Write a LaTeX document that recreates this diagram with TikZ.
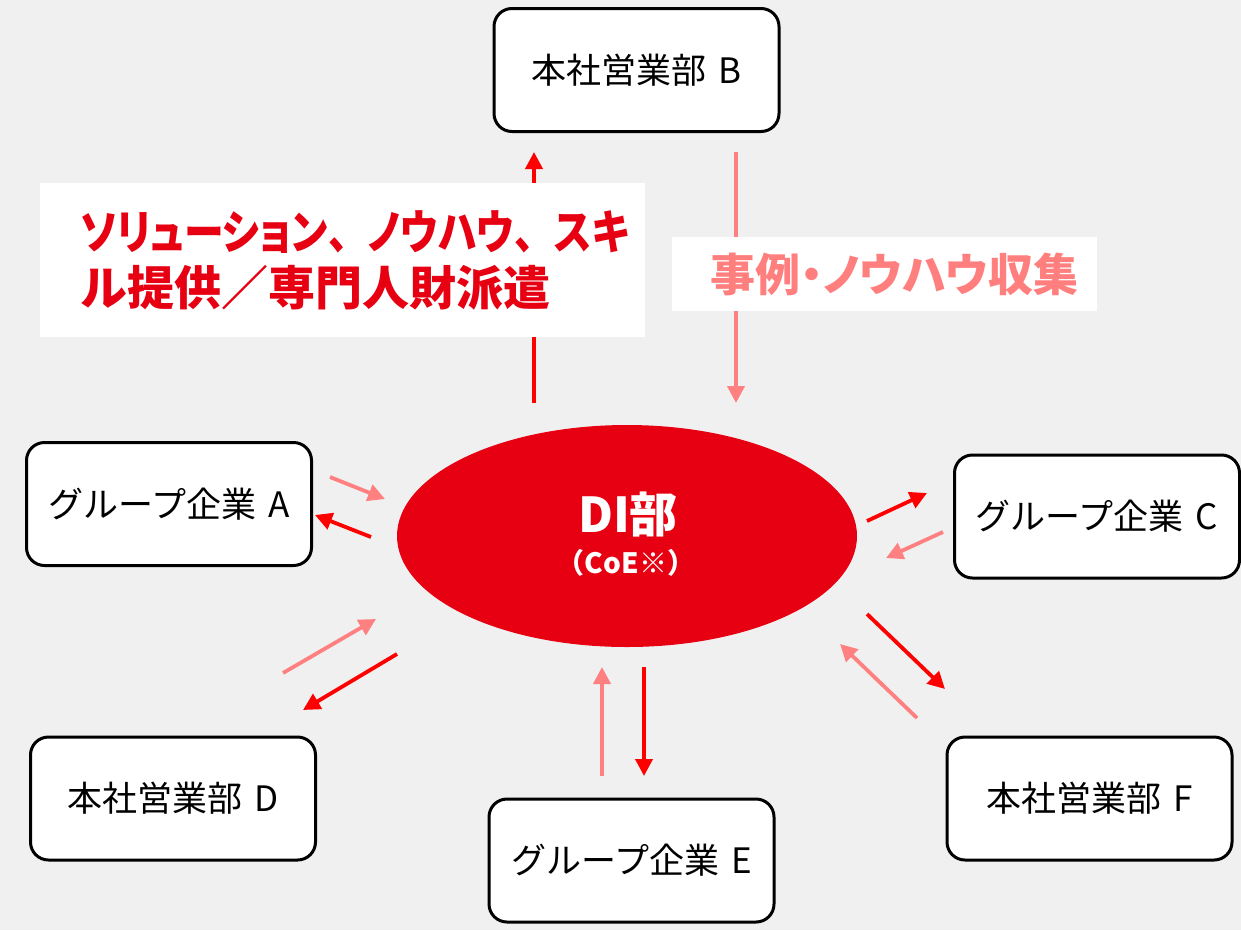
\documentclass[tikz,border=0pt]{standalone}
\usepackage{fontspec}
\usepackage{graphicx}
\setmainfont{Noto Sans CJK JP}
\newfontfamily\jpp{Noto Sans CJK JP}[RawFeature=+palt]
\usetikzlibrary{arrows.meta,shapes.geometric}
\definecolor{bg}{HTML}{F0F0F0}
\definecolor{direct}{HTML}{E60012}
\definecolor{arr}{HTML}{FF0000}
\definecolor{pinkarr}{HTML}{FF8080}
\definecolor{pinktxt}{HTML}{FF7F7F}
\tikzset{
  unit/.style={draw=black, line width=3pt, rounded corners=18pt, fill=white,
    minimum width=285pt, minimum height=123pt, inner sep=0pt,
    font=\fontsize{35}{40}\selectfont},
  redarr/.style={draw=arr, line width=3.8pt, -{Triangle[length=17pt,width=17pt]}},
  pinkar/.style={draw=pinkarr, line width=3.8pt, -{Triangle[length=17pt,width=17pt]}},
  ctext/.style={text=white, inner sep=0pt},
}
\newcommand{\gap}{\hspace{12pt}}
\begin{document}
\begin{tikzpicture}[x=1pt,y=-1pt]
\fill[bg] (0,0) rectangle (1241,930);
\useasboundingbox (0,0) rectangle (1241,930);

% boxes
\node[unit] (B) at (636.5,70) {本社営業部\gap B};
\node[unit] (A) at (169,504) {グループ企業\gap A};
\node[unit] (C) at (1097,516.5) {グループ企業\gap C};
\node[unit] (D) at (173,798.5) {本社営業部\gap D};
\node[unit] (E) at (631.5,860.5) {グループ企業\gap E};
\node[unit] (F) at (1089.5,798.5) {本社営業部\gap F};

% centre
\node[ellipse, fill=direct, minimum width=460pt, minimum height=222pt, inner sep=0pt] (DI) at (627,536) {};
\node[ctext, font=\bfseries\fontsize{48}{50}\selectfont] (DIt) at (628,514) {DI部};
\node[ctext, font=\bfseries\fontsize{28}{32}\selectfont] (CoE) at (626,563) {（CoE※）};

% arrow end points
\coordinate (u1) at (534,403); \coordinate (u2) at (534,152);
\coordinate (d1) at (736,152); \coordinate (d2) at (736,403);
\coordinate (a1) at (330,477); \coordinate (a2) at (385,499);
\coordinate (a3) at (371,537); \coordinate (a4) at (315,515);
\coordinate (c1) at (867,521); \coordinate (c2) at (927,493);
\coordinate (c3) at (943,532); \coordinate (c4) at (886,558);
\coordinate (e1) at (283,673); \coordinate (e2) at (376,619);
\coordinate (e3) at (397,654); \coordinate (e4) at (303,710);
\coordinate (g1) at (602,776); \coordinate (g2) at (602,667);
\coordinate (g3) at (644,667); \coordinate (g4) at (644,776);
\coordinate (f1) at (867,614); \coordinate (f2) at (945,689);
\coordinate (f3) at (917,718); \coordinate (f4) at (840,644);

\draw[redarr] (u1) -- (u2);
\draw[pinkar] (d1) -- (d2);
\draw[pinkar] (a1) -- (a2);
\draw[redarr] (a3) -- (a4);
\draw[redarr] (c1) -- (c2);
\draw[pinkar] (c3) -- (c4);
\draw[pinkar] (e1) -- (e2);
\draw[redarr] (e3) -- (e4);
\draw[pinkar] (g1) -- (g2);
\draw[redarr] (g3) -- (g4);
\draw[redarr] (f1) -- (f2);
\draw[pinkar] (f3) -- (f4);

% labels
\node[fill=white, anchor=north west, minimum width=605pt, minimum height=154pt, inner xsep=40pt, inner ysep=0pt,
  text width=525pt, align=left, text=direct, font=\bfseries\fontsize{47}{56}\selectfont] (sol) at (40,183)
  {\resizebox{548pt}{\height}{{\jpp ソリューション}、{\jpp ノウハウ}、{\jpp スキ}}\\ル提供／専門人財派遣};
\node[fill=white, minimum width=425pt, minimum height=74pt, inner sep=0pt, text=pinktxt,
  font=\jpp\bfseries\fontsize{45}{50}\selectfont] (col) at (884.5,274)
  {\hspace*{20pt}事例・ノウハウ収集};
\end{tikzpicture}
\end{document}
